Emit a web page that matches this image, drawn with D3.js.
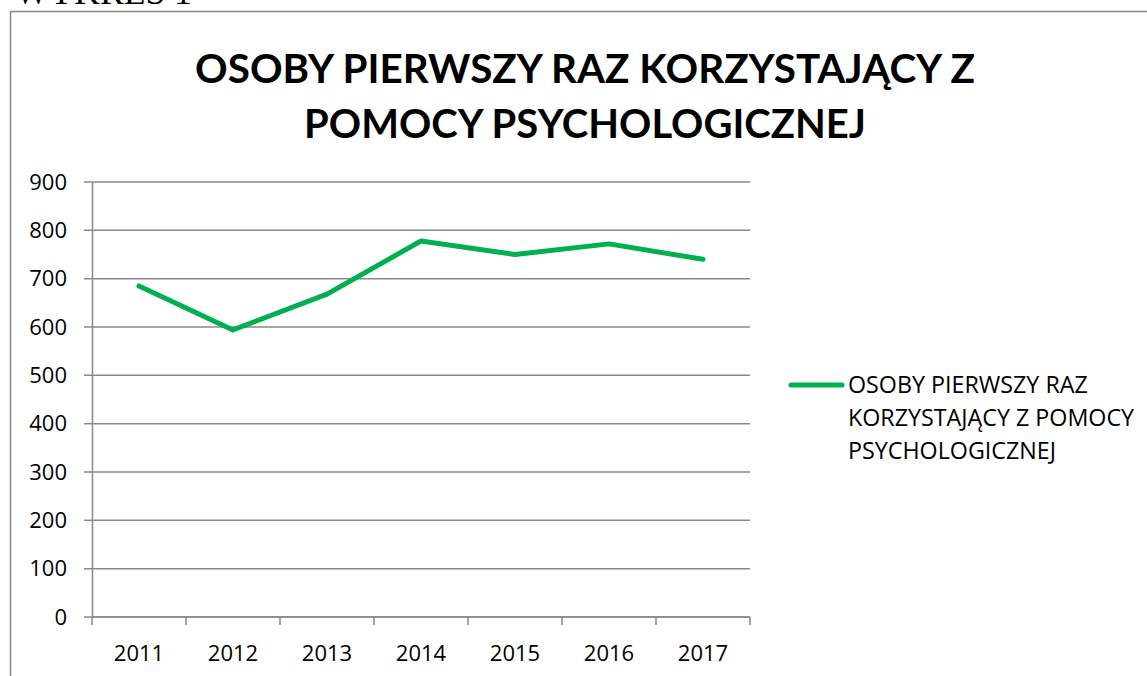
<!DOCTYPE html>
<html>
<head>
<meta charset="utf-8">
<script src="https://cdn.jsdelivr.net/npm/d3@7"></script>
<style>
  body { margin: 0; background: #fff; }
  text { font-family: "Open Sans", sans-serif; }
</style>
</head>
<body>
<div id="chart-area"></div>
<script>
// Data
const years = ["2011", "2012", "2013", "2014", "2015", "2016", "2017"];
const values = [685, 594, 668, 778, 750, 772, 740];
const yTicks = [0, 100, 200, 300, 400, 500, 600, 700, 800, 900];
const titleLines = ["OSOBY PIERWSZY RAZ KORZYSTAJĄCY Z", "POMOCY PSYCHOLOGICZNEJ"];
const legendLines = ["OSOBY PIERWSZY RAZ", "KORZYSTAJĄCY Z POMOCY", "PSYCHOLOGICZNEJ"];

const W = 1147, H = 676;
const green = "#00B050";
const grey = "#898989";

const svg = d3.select("#chart-area").append("svg")
  .attr("width", W).attr("height", H);

// fit a text element to a target width by font size
function fitWidth(sel, target) {
  const w = sel.node().getComputedTextLength();
  const fs = parseFloat(sel.attr("font-size"));
  sel.attr("font-size", fs * target / w);
  return fs * target / w;
}

// cut off caption above the chart
const cap = svg.append("text")
  .attr("x", 15).attr("y", 4)
  .attr("font-size", 30)
  .style("font-family", "'Liberation Serif', serif")
  .text("WYKRES 1");
fitWidth(cap, 177);

// chart border
svg.append("rect")
  .attr("x", 10.5).attr("y", 11.5)
  .attr("width", 1200).attr("height", 700)
  .attr("fill", "none")
  .attr("stroke", grey).attr("stroke-width", 1.5);

// Title
const titleWidths = [780, 562];
titleLines.forEach((t, i) => {
  const el = svg.append("text")
    .attr("x", 585).attr("y", 83 + i * 55)
    .attr("text-anchor", "middle")
    .attr("font-size", 40)
    .attr("font-weight", "bold")
    .style("font-family", "Lato, sans-serif")
    .text(t);
  fitWidth(el, titleWidths[i]);
});

// Plot area
const plot = { left: 92, right: 750, top: 182, bottom: 617 };

const x = d3.scaleBand()
  .domain(years)
  .range([plot.left, plot.right]);

const y = d3.scaleLinear()
  .domain([0, 900])
  .range([plot.bottom, plot.top]);

// gridlines
svg.append("g")
  .selectAll("line")
  .data(yTicks)
  .join("line")
    .attr("x1", plot.left - 8).attr("x2", plot.right)
    .attr("y1", d => y(d)).attr("y2", d => y(d))
    .attr("stroke", grey).attr("stroke-width", 1.5);

// y axis
const yAxis = svg.append("g")
  .attr("transform", "translate(" + plot.left + ",0)")
  .call(d3.axisLeft(y).tickValues(yTicks).tickSize(0).tickPadding(25));
yAxis.select(".domain").attr("stroke", grey).attr("stroke-width", 1.5);
yAxis.selectAll("text")
  .attr("font-size", 22).attr("fill", "#000")
  .style("font-family", "'Open Sans', sans-serif");

// x axis
const xTickPos = years.map(d => x(d)).concat([plot.right]);
const xAxis = svg.append("g")
  .attr("transform", "translate(0," + plot.bottom + ")");
xAxis.append("line")
  .attr("x1", plot.left).attr("x2", plot.right)
  .attr("stroke", grey).attr("stroke-width", 1.5);
xAxis.selectAll(".tick")
  .data(xTickPos)
  .join("line")
    .attr("class", "tick")
    .attr("x1", d => d).attr("x2", d => d)
    .attr("y1", 0).attr("y2", 8)
    .attr("stroke", grey).attr("stroke-width", 1.5);
xAxis.selectAll(".lbl")
  .data(years)
  .join("text")
    .attr("class", "lbl")
    .attr("x", d => x(d) + x.bandwidth() / 2)
    .attr("y", 44)
    .attr("text-anchor", "middle")
    .attr("font-size", 22)
    .text(d => d);

// line
const line = d3.line()
  .x((d, i) => x(years[i]) + x.bandwidth() / 2)
  .y(d => y(d));

svg.append("path")
  .datum(values)
  .attr("d", line)
  .attr("fill", "none")
  .attr("stroke", green)
  .attr("stroke-width", 5)
  .attr("stroke-linejoin", "round")
  .attr("stroke-linecap", "round");

// Legend
svg.append("line")
  .attr("x1", 791).attr("x2", 842)
  .attr("y1", 385).attr("y2", 385)
  .attr("stroke", green).attr("stroke-width", 5)
  .attr("stroke-linecap", "round");

const legend = svg.append("g")
  .selectAll("text")
  .data(legendLines)
  .join("text")
    .attr("x", 848)
    .attr("y", (d, i) => 393 + i * 33)
    .attr("font-size", 20)
    .text(d => d);
const lfs = fitWidth(d3.select(legend.nodes()[0]), 240);
legend.attr("font-size", lfs);
</script>
</body>
</html>
